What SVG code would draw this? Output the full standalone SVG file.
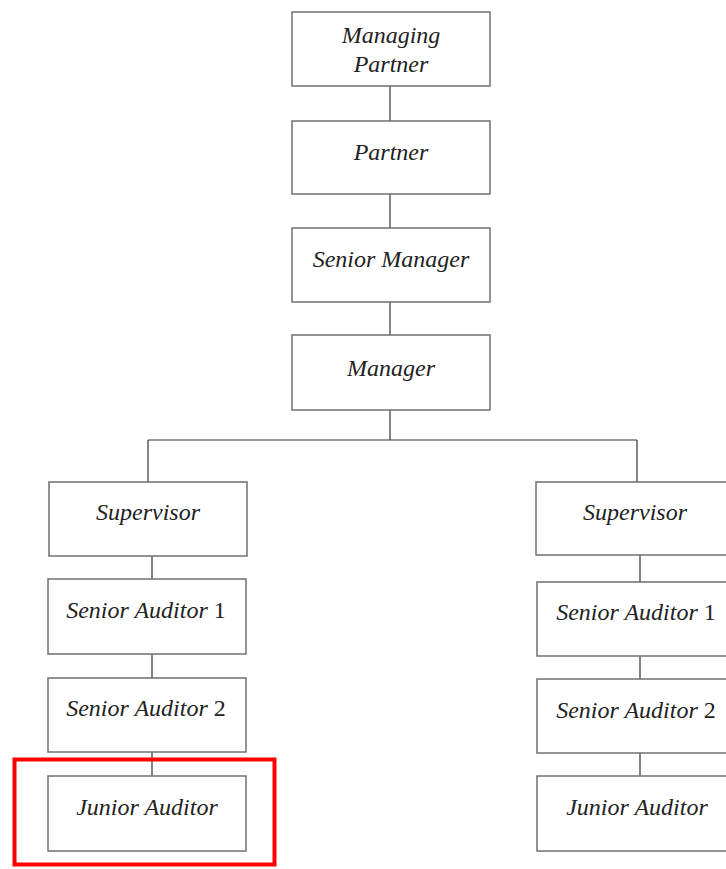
<svg xmlns="http://www.w3.org/2000/svg" width="726" height="869" viewBox="0 0 726 869">
<style>
.box{fill:#fff;stroke:#707070;stroke-width:1.5}
.lbl{font-family:"Liberation Serif","Times New Roman",serif;font-style:italic;font-size:24px;fill:#222;text-anchor:middle}
.num{font-style:normal}
.conn line{stroke:#333;stroke-width:1.2}
</style>
<rect width="726" height="869" fill="#fff"/>
<g id="connectors" class="conn">
<line x1="390" y1="86" x2="390" y2="121"/>
<line x1="390" y1="194" x2="390" y2="228"/>
<line x1="390" y1="302" x2="390" y2="335"/>
<line x1="390" y1="410" x2="390" y2="440"/>
<line x1="148" y1="440" x2="637" y2="440"/>
<line x1="148" y1="440" x2="148" y2="482"/>
<line x1="637" y1="440" x2="637" y2="482"/>
<line x1="152" y1="556" x2="152" y2="579"/>
<line x1="152" y1="654" x2="152" y2="678"/>
<line x1="152" y1="752" x2="152" y2="776"/>
<line x1="640" y1="555" x2="640" y2="582"/>
<line x1="640" y1="656" x2="640" y2="679"/>
<line x1="640" y1="753" x2="640" y2="776"/>
</g>
<g id="managing-partner"><rect class="box" x="292" y="12" width="198" height="74"/><text class="lbl" x="391" y="43">Managing</text><text class="lbl" x="391" y="72">Partner</text></g>
<g id="partner"><rect class="box" x="292" y="121" width="198" height="73"/><text class="lbl" x="391" y="160">Partner</text></g>
<g id="senior-manager"><rect class="box" x="292" y="228" width="198" height="74"/><text class="lbl" x="391" y="267">Senior Manager</text></g>
<g id="manager"><rect class="box" x="292" y="335" width="198" height="75"/><text class="lbl" x="391" y="376">Manager</text></g>
<g id="supervisor-left"><rect class="box" x="49" y="482" width="198" height="74"/><text class="lbl" x="148" y="520">Supervisor</text></g>
<g id="senior-auditor-1-left"><rect class="box" x="48" y="579" width="198" height="75"/><text class="lbl" x="146" y="618">Senior Auditor <tspan class="num">1</tspan></text></g>
<g id="senior-auditor-2-left"><rect class="box" x="48" y="678" width="198" height="74"/><text class="lbl" x="146" y="716">Senior Auditor <tspan class="num">2</tspan></text></g>
<g id="junior-auditor-left"><rect class="box" x="48" y="776" width="198" height="75"/><text class="lbl" x="147" y="815">Junior Auditor</text></g>
<g id="supervisor-right"><rect class="box" x="536" y="482" width="198" height="73"/><text class="lbl" x="635" y="520">Supervisor</text></g>
<g id="senior-auditor-1-right"><rect class="box" x="537" y="582" width="198" height="74"/><text class="lbl" x="636" y="620">Senior Auditor <tspan class="num">1</tspan></text></g>
<g id="senior-auditor-2-right"><rect class="box" x="537" y="679" width="198" height="74"/><text class="lbl" x="636" y="718">Senior Auditor <tspan class="num">2</tspan></text></g>
<g id="junior-auditor-right"><rect class="box" x="537" y="776" width="198" height="75"/><text class="lbl" x="637" y="815">Junior Auditor</text></g>
<g id="highlight"><rect x="14.5" y="759.5" width="260" height="105" fill="none" stroke="#ff0000" stroke-width="4"/></g>
</svg>
